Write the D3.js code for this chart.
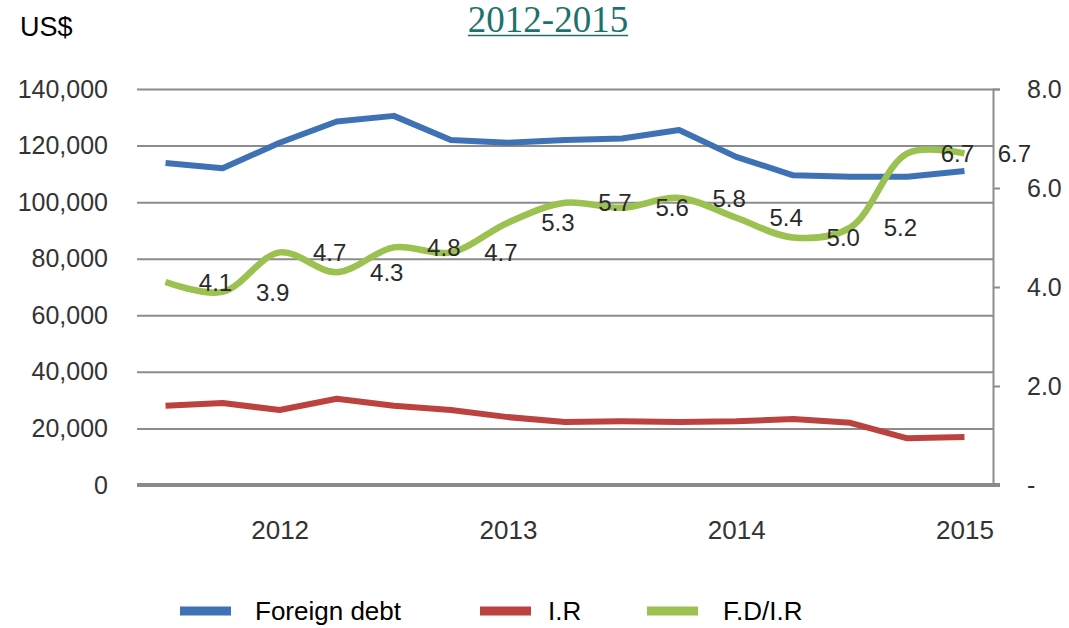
<!DOCTYPE html>
<html>
<head>
<meta charset="utf-8">
<script src="https://cdn.jsdelivr.net/npm/d3@7"></script>
<style>
  body { margin: 0; background: #fff; }
  text { font-family: "Liberation Sans", Arial, sans-serif; }
</style>
</head>
<body>
<div id="chart"></div>
<script>
// quarterly points, year labels sit on Q1
const periods = ["2011 Q3", "2011 Q4", "2012 Q1", "2012 Q2", "2012 Q3", "2012 Q4",
    "2013 Q1", "2013 Q2", "2013 Q3", "2013 Q4", "2014 Q1", "2014 Q2", "2014 Q3", "2014 Q4", "2015 Q1"];
const yearTicks = ["2012 Q1", "2013 Q1", "2014 Q1", "2015 Q1"];
const yearLabels = ["2012", "2013", "2014", "2015"];

const foreignDebt = [113800, 112000, 121000, 128500, 130500, 122000, 121000, 122000,
    122500, 125500, 116000, 109500, 109000, 109000, 111000];
const reserves = [28000, 29000, 26500, 30500, 28000, 26500, 24000, 22300,
    22500, 22300, 22500, 23300, 22000, 16500, 17000];
const ratio = [4.1, 3.9, 4.7, 4.3, 4.8, 4.7, 5.3, 5.7, 5.6, 5.8, 5.4, 5.0, 5.2, 6.7, 6.7];

const leftTicks = [0, 20000, 40000, 60000, 80000, 100000, 120000, 140000];
const rightTicks = [0, 2, 4, 6, 8];

const legendNames = ["Foreign debt", "I.R", "F.D/I.R"];
const colors = ["#3e72b5", "#bc423f", "#9bc150"];

const W = 1069, H = 628;
const plot = { left: 137, right: 993, top: 89, bottom: 485 };

const svg = d3.select("#chart").append("svg")
    .attr("width", W).attr("height", H);

// title & unit
const title = svg.append("text")
    .attr("x", 548).attr("y", 32)
    .attr("text-anchor", "middle")
    .style("font-family", "'Liberation Serif', 'DejaVu Serif', serif")
    .style("font-size", "37px")
    .style("fill", "#1e716d")
    .text("2012-2015");
const tb = title.node().getBBox();
svg.append("line")
    .attr("x1", tb.x).attr("x2", tb.x + tb.width).attr("y1", 35.5).attr("y2", 35.5)
    .attr("stroke", "#1e716d").attr("stroke-width", 1.5);

svg.append("text")
    .attr("x", 20).attr("y", 36)
    .style("font-size", "27px")
    .style("fill", "#000")
    .text("US$");

const x = d3.scalePoint().domain(periods).range([plot.left, plot.right]).padding(0.5);
const yL = d3.scaleLinear().domain([0, 140000]).range([plot.bottom, plot.top]);
const yR = d3.scaleLinear().domain([0, 8]).range([plot.bottom, plot.top]);

// left axis + gridlines
const gL = svg.append("g")
    .attr("transform", `translate(${plot.left},0)`)
    .call(d3.axisLeft(yL).tickValues(leftTicks)
        .tickSize(-(plot.right - plot.left)).tickPadding(29)
        .tickFormat(d3.format(",")));
gL.select(".domain").remove();
gL.selectAll(".tick line").attr("stroke", "#8c8c8c").attr("stroke-width", 2);
gL.selectAll(".tick text").style("font-size", "25px").style("fill", "#333").style("font-family", null);

// right axis
const gR = svg.append("g")
    .attr("transform", `translate(${plot.right},0)`)
    .call(d3.axisRight(yR).tickValues(rightTicks)
        .tickSize(7).tickPadding(27)
        .tickFormat(d => d === 0 ? "-" : d.toFixed(1)));
gR.select(".domain").attr("stroke", "#8c8c8c").attr("stroke-width", 2);
gR.selectAll(".tick line").attr("stroke", "#8c8c8c").attr("stroke-width", 2);
gR.selectAll(".tick text").style("font-size", "25px").style("fill", "#333").style("font-family", null);

// bottom axis
const gB = svg.append("g")
    .attr("transform", `translate(0,${plot.bottom})`)
    .call(d3.axisBottom(x).tickValues(yearTicks).tickSize(0).tickPadding(36)
        .tickFormat((d, i) => yearLabels[i]));
gB.select(".domain").remove();
gB.selectAll(".tick text").style("font-size", "26px").style("fill", "#333").style("font-family", null);
svg.append("line")
    .attr("x1", plot.left).attr("x2", plot.right + 7)
    .attr("y1", plot.bottom).attr("y2", plot.bottom)
    .attr("stroke", "#8a8a8a").attr("stroke-width", 4);

// lines
const lineL = d3.line().x((d, i) => x(periods[i])).y(d => yL(d));
const lineR = d3.line().x((d, i) => x(periods[i])).y(d => yR(d))
    .curve(d3.curveCatmullRom.alpha(0.5));

svg.append("path").datum(foreignDebt)
    .attr("d", lineL).attr("fill", "none")
    .attr("stroke", colors[0]).attr("stroke-width", 6).attr("stroke-linejoin", "round");
svg.append("path").datum(reserves)
    .attr("d", lineL).attr("fill", "none")
    .attr("stroke", colors[1]).attr("stroke-width", 6).attr("stroke-linejoin", "round");
svg.append("path").datum(ratio)
    .attr("d", lineR).attr("fill", "none")
    .attr("stroke", colors[2]).attr("stroke-width", 6.5).attr("stroke-linejoin", "round");

// ratio labels, placed right of each point
svg.selectAll(".rlabel").data(ratio).join("text")
    .attr("class", "rlabel")
    .attr("x", (d, i) => x(periods[i]) + 50)
    .attr("y", d => yR(d))
    .attr("dy", "0.36em")
    .attr("text-anchor", "middle")
    .style("font-size", "24px")
    .style("fill", "#2a2a2a")
    .text(d => d.toFixed(1));

// legend
const legendX = [180, 480, 647];
const lg = svg.selectAll(".legend").data(legendNames).join("g")
    .attr("class", "legend")
    .attr("transform", (d, i) => `translate(${legendX[i]},611)`);
lg.append("line")
    .attr("x1", 0).attr("x2", 51).attr("y1", 0).attr("y2", 0)
    .attr("stroke", (d, i) => colors[i]).attr("stroke-width", 9);
lg.append("text")
    .attr("x", (d, i) => i === 0 ? 75 : i === 1 ? 68 : 76)
    .attr("y", 0).attr("dy", "0.36em")
    .style("font-size", "26px").style("fill", "#000")
    .text(d => d);
</script>
</body>
</html>
